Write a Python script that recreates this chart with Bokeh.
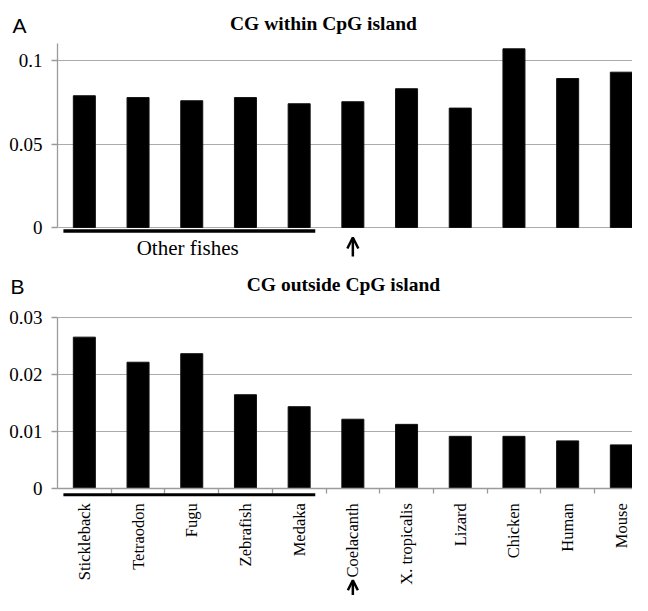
import math
import numpy as np
from bokeh.plotting import figure
from bokeh.layouts import column
from bokeh.models import (ColumnDataSource, Range1d, FixedTicker, CustomJSTickFormatter,
                          Label, Arrow, OpenHead)
from bokeh.embed import file_html
from bokeh.resources import INLINE

# ---- data ----
species = ["Stickleback", "Tetraodon", "Fugu", "Zebrafish", "Medaka", "Coelacanth",
           "X. tropicalis", "Lizard", "Chicken", "Human", "Mouse"]
within_cpg = [0.0789, 0.0778, 0.0759, 0.0778, 0.0741, 0.0753, 0.0831, 0.0715, 0.1070, 0.0892, 0.0930]
outside_cpg = [0.0265, 0.0221, 0.0236, 0.0164, 0.0143, 0.0121, 0.0112, 0.0091, 0.0091, 0.0083, 0.0076]
a_ticks = [0, 0.05, 0.1]
b_ticks = [0, 0.01, 0.02, 0.03]
other_fishes = species[:5]
highlight = "Coelacanth"

n = len(species)
centers = list(np.arange(n) + 0.5)
bounds = list(range(1, n))

SERIF = "Liberation Serif"
SANS = "Liberation Sans"
AXIS_COL = "#9a9a9a"
GRID_COL = "#ababab"

W = 632
AX = 57                     # pixel position of the y axis
PXU = 53.7                  # pixels per category
X0 = -AX / PXU
X1 = (W - AX) / PXU


def base_fig(height, y0, y1, yt, ytop):
    p = figure(width=W, height=height, x_range=Range1d(X0, X1), y_range=Range1d(y0, y1),
               output_backend="svg", toolbar_location=None, title=None,
               min_border_left=0, min_border_right=0, min_border_top=0, min_border_bottom=0)
    p.outline_line_color = None
    p.xgrid.grid_line_color = None
    p.ygrid.grid_line_color = GRID_COL
    p.ygrid.grid_line_width = 1.2
    p.ygrid.cross_bounds = (0, X1)
    ya = p.yaxis[0]
    ya.fixed_location = 0
    ya.bounds = (0, ytop)
    ya.ticker = FixedTicker(ticks=yt)
    ya.formatter = CustomJSTickFormatter(code="return tick.toString()")
    ya.axis_line_color = AXIS_COL
    ya.axis_line_width = 1.3
    ya.major_tick_line_color = AXIS_COL
    ya.major_tick_line_width = 1.3
    ya.minor_tick_line_color = None
    ya.major_tick_in = 0
    ya.major_tick_out = 6
    ya.major_label_text_font = SERIF
    ya.major_label_text_color = "black"
    ya.major_label_text_font_size = "19px"
    ya.major_label_standoff = 9
    return p


def label(p, **kw):
    p.add_layout(Label(text_color="black", **kw))


# ---------- Panel A ----------
A_PX = 1670.0
A_TOP = 0.1102
pA = base_fig(270, -43 / A_PX, 227 / A_PX, a_ticks, A_TOP)
pA.xaxis.visible = False
srcA = ColumnDataSource(dict(x=centers, y=within_cpg, name=species))
pA.vbar(x="x", top="y", width=0.41, source=srcA, fill_color="black", line_color="#111111")

label(pA, x=(323 - AX) / PXU, y=204 / A_PX, text="CG within CpG island",
      text_align="center", text_baseline="alphabetic", text_font=SERIF,
      text_font_style="bold", text_font_size="19.5px")
label(pA, x=(12 - AX) / PXU, y=202 / A_PX, text="A", text_align="left",
      text_baseline="alphabetic", text_font=SANS, text_font_size="21px")
fish_start = species.index(other_fishes[0]) + 0.11
fish_end = species.index(other_fishes[-1]) + 0.8
pA.add_layout(Arrow(end=None, x_start=fish_start, x_end=fish_end, y_start=-3.5 / A_PX,
                    y_end=-3.5 / A_PX, line_width=3.5, line_color="black"))
label(pA, x=(fish_start + fish_end) / 2 - 0.03, y=-20 / A_PX, text="Other fishes",
      text_align="center", text_baseline="middle", text_font=SERIF, text_font_size="21px")
hx = species.index(highlight) + 0.5
pA.add_layout(Arrow(end=OpenHead(size=11, line_width=2.5), x_start=hx, x_end=hx,
                    y_start=-29 / A_PX, y_end=-10 / A_PX, line_width=2.5, line_color="black"))

# ---------- Panel B ----------
B_PX = 5700.0
pB = base_fig(325, -107.3 / B_PX, 217.7 / B_PX, b_ticks, 0.03)
srcB = ColumnDataSource(dict(x=centers, y=outside_cpg, name=species))
pB.vbar(x="x", top="y", width=0.41, source=srcB, fill_color="black", line_color="#111111")
xa = pB.xaxis[0]
xa.fixed_location = 0
xa.bounds = (0, X1 + 1)
xa.ticker = FixedTicker(ticks=centers, minor_ticks=bounds)
xa.formatter = CustomJSTickFormatter(args=dict(names=species),
                                     code="return names[Math.floor(tick)]")
xa.axis_line_color = AXIS_COL
xa.axis_line_width = 1.3
xa.major_tick_line_color = None
xa.major_tick_in = 0
xa.major_tick_out = 0
xa.minor_tick_line_color = AXIS_COL
xa.minor_tick_line_width = 1.3
xa.minor_tick_in = 0
xa.minor_tick_out = 5
xa.major_label_orientation = math.pi / 2
xa.major_label_text_font = SERIF
xa.major_label_text_color = "black"
xa.major_label_text_font_size = "16.5px"
xa.major_label_standoff = 10

label(pB, x=(343 - AX) / PXU, y=203.7 / B_PX, text="CG outside CpG island",
      text_align="center", text_baseline="alphabetic", text_font=SERIF,
      text_font_style="bold", text_font_size="19.5px")
label(pB, x=(10 - AX) / PXU, y=201.7 / B_PX, text="B", text_align="left",
      text_baseline="alphabetic", text_font=SANS, text_font_size="21px")
pB.add_layout(Arrow(end=None, x_start=fish_start, x_end=fish_end, y_start=-6.5 / B_PX,
                    y_end=-6.5 / B_PX, line_width=3, line_color="black"))
pB.add_layout(Arrow(end=OpenHead(size=10, line_width=2.5), x_start=hx, x_end=hx,
                    y_start=-107 / B_PX, y_end=-92 / B_PX, line_width=2.5, line_color="black"))

layout = column(pA, pB, spacing=0)
open("out.html", "w").write(file_html(layout, INLINE))
